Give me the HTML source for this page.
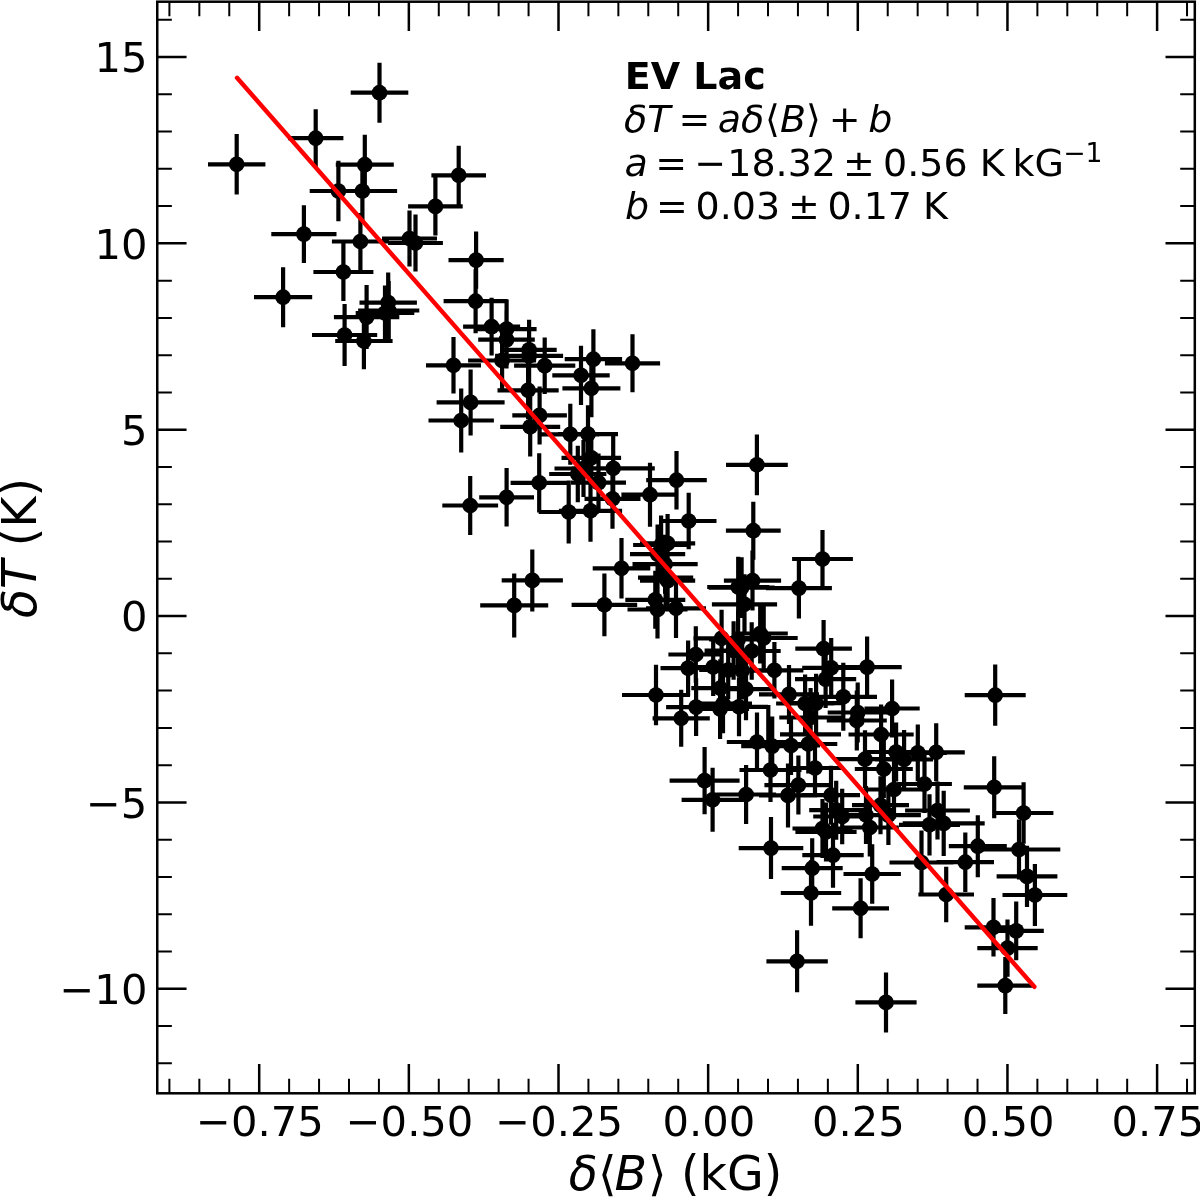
<!DOCTYPE html>
<html lang="en"><head><meta charset="utf-8"><title>EV Lac</title>
<style>html,body{margin:0;padding:0;background:#fff}svg{display:block;will-change:transform}text{font-family:"DejaVu Sans","Liberation Sans",sans-serif;fill:#000}.it{font-style:italic}.b{font-weight:bold}</style></head><body>
<svg width="1200" height="1197" viewBox="0 0 1200 1197">
<rect width="1200" height="1197" fill="#fff"/>
<path d="M259.20 1093.30v-29.3M259.20 1.70v29.3M408.85 1093.30v-29.3M408.85 1.70v29.3M558.50 1093.30v-29.3M558.50 1.70v29.3M708.15 1093.30v-29.3M708.15 1.70v29.3M857.80 1093.30v-29.3M857.80 1.70v29.3M1007.45 1093.30v-29.3M1007.45 1.70v29.3M1157.10 1093.30v-29.3M1157.10 1.70v29.3M157.25 988.80h29.3M1194.80 988.80h-29.3M157.25 802.44h29.3M1194.80 802.44h-29.3M157.25 616.08h29.3M1194.80 616.08h-29.3M157.25 429.72h29.3M1194.80 429.72h-29.3M157.25 243.36h29.3M1194.80 243.36h-29.3M157.25 57.00h29.3M1194.80 57.00h-29.3" stroke="#000" stroke-width="2.5" fill="none"/>
<path d="M169.41 1093.30v-14.6M169.41 1.70v14.6M199.34 1093.30v-14.6M199.34 1.70v14.6M229.27 1093.30v-14.6M229.27 1.70v14.6M289.13 1093.30v-14.6M289.13 1.70v14.6M319.06 1093.30v-14.6M319.06 1.70v14.6M348.99 1093.30v-14.6M348.99 1.70v14.6M378.92 1093.30v-14.6M378.92 1.70v14.6M438.78 1093.30v-14.6M438.78 1.70v14.6M468.71 1093.30v-14.6M468.71 1.70v14.6M498.64 1093.30v-14.6M498.64 1.70v14.6M528.57 1093.30v-14.6M528.57 1.70v14.6M588.43 1093.30v-14.6M588.43 1.70v14.6M618.36 1093.30v-14.6M618.36 1.70v14.6M648.29 1093.30v-14.6M648.29 1.70v14.6M678.22 1093.30v-14.6M678.22 1.70v14.6M738.08 1093.30v-14.6M738.08 1.70v14.6M768.01 1093.30v-14.6M768.01 1.70v14.6M797.94 1093.30v-14.6M797.94 1.70v14.6M827.87 1093.30v-14.6M827.87 1.70v14.6M887.73 1093.30v-14.6M887.73 1.70v14.6M917.66 1093.30v-14.6M917.66 1.70v14.6M947.59 1093.30v-14.6M947.59 1.70v14.6M977.52 1093.30v-14.6M977.52 1.70v14.6M1037.38 1093.30v-14.6M1037.38 1.70v14.6M1067.31 1093.30v-14.6M1067.31 1.70v14.6M1097.24 1093.30v-14.6M1097.24 1.70v14.6M1127.17 1093.30v-14.6M1127.17 1.70v14.6M1187.03 1093.30v-14.6M1187.03 1.70v14.6M157.25 1063.34h14.6M1194.80 1063.34h-14.6M157.25 1026.07h14.6M1194.80 1026.07h-14.6M157.25 951.53h14.6M1194.80 951.53h-14.6M157.25 914.26h14.6M1194.80 914.26h-14.6M157.25 876.98h14.6M1194.80 876.98h-14.6M157.25 839.71h14.6M1194.80 839.71h-14.6M157.25 765.17h14.6M1194.80 765.17h-14.6M157.25 727.90h14.6M1194.80 727.90h-14.6M157.25 690.62h14.6M1194.80 690.62h-14.6M157.25 653.35h14.6M1194.80 653.35h-14.6M157.25 578.81h14.6M1194.80 578.81h-14.6M157.25 541.54h14.6M1194.80 541.54h-14.6M157.25 504.26h14.6M1194.80 504.26h-14.6M157.25 466.99h14.6M1194.80 466.99h-14.6M157.25 392.45h14.6M1194.80 392.45h-14.6M157.25 355.18h14.6M1194.80 355.18h-14.6M157.25 317.90h14.6M1194.80 317.90h-14.6M157.25 280.63h14.6M1194.80 280.63h-14.6M157.25 206.09h14.6M1194.80 206.09h-14.6M157.25 168.82h14.6M1194.80 168.82h-14.6M157.25 131.54h14.6M1194.80 131.54h-14.6M157.25 94.27h14.6M1194.80 94.27h-14.6M157.25 19.73h14.6M1194.80 19.73h-14.6" stroke="#000" stroke-width="2.0" fill="none"/>
<path d="M350.7 92.7h57.6M379.5 62.7v60.0M288.0 138.2h55.4M315.7 109.2v58.0M208.0 164.3h57.4M236.7 134.0v60.6M335.8 164.7h58.0M364.8 134.7v60.0M309.7 191.0h57.4M338.4 160.7v60.6M327.7 191.0h69.4M362.4 161.0v60.0M271.3 234.1h65.2M303.9 205.2v57.8M331.9 241.5h57.0M360.4 213.0v57.0M313.4 272.0h60.0M343.4 243.0v58.0M382.0 238.5h55.0M409.5 210.5v56.0M388.1 243.0h54.8M415.5 214.5v57.0M431.4 175.3h54.6M458.7 145.7v59.2M408.1 206.4h54.6M435.4 177.4v58.0M448.5 260.1h55.2M476.1 231.4v57.4M254.0 297.2h58.2M283.1 267.2v60.0M359.5 302.6h57.4M388.2 272.6v60.0M333.9 317.1h65.4M366.6 285.1v64.0M358.1 310.5h61.2M388.7 280.9v59.2M355.7 313.0h58.6M385.0 285.4v55.2M312.0 335.0h65.2M344.6 304.0v62.0M335.2 341.0h57.4M363.9 312.7v56.6M443.6 301.2h64.0M475.6 269.2v64.0M426.0 365.3h55.0M453.5 337.0v56.6M436.6 402.4h68.0M470.6 369.4v66.0M428.5 420.5h65.4M461.2 388.5v64.0M463.1 326.6h57.0M491.6 297.8v57.6M476.6 329.1h60.0M506.6 299.5v59.2M478.2 339.6h56.6M506.5 310.6v58.0M501.5 349.8h55.2M529.1 319.8v60.0M495.1 355.9h68.0M529.1 325.9v60.0M468.1 360.5h68.0M502.1 331.0v59.0M514.1 365.7h61.2M544.7 337.4v56.6M497.5 390.3h61.2M528.1 361.3v58.0M552.3 375.3h57.4M581.0 345.7v59.2M564.7 359.2h57.4M593.4 329.2v60.0M562.4 388.3h58.0M591.4 359.3v58.0M604.9 363.3h55.2M632.5 334.3v58.0M512.3 415.4h54.6M539.6 386.4v58.0M500.2 426.8h60.0M530.2 397.1v59.4M541.3 434.3h58.0M570.3 403.8v61.0M558.0 434.2h60.0M588.0 405.2v58.0M549.2 474.0h57.2M577.8 445.8v56.4M561.5 457.8h59.6M591.3 428.8v58.0M571.0 482.6h55.0M598.5 453.6v58.0M571.6 468.3h83.2M613.2 435.3v66.0M584.5 498.8h56.0M612.5 468.8v60.0M621.4 494.7h57.2M650.0 462.7v64.0M510.6 482.8h57.2M539.2 453.2v59.2M538.7 512.0h60.0M568.7 480.5v63.0M558.9 510.8h63.2M590.5 479.8v62.0M554.5 468.5h58.0M583.5 439.9v57.2M646.2 480.2h60.6M676.5 450.9v58.6M726.0 464.8h61.8M756.9 434.4v60.8M660.9 521.0h55.6M688.7 492.8v56.4M725.9 530.7h54.8M753.3 501.7v58.0M792.1 559.0h60.8M822.5 530.0v58.0M765.9 588.1h66.0M798.9 557.8v60.6M592.7 568.3h57.6M621.5 538.1v60.4M640.0 543.4h55.2M667.6 513.9v59.0M633.1 545.0h56.0M661.1 515.5v59.0M630.0 554.1h55.2M657.6 524.6v59.0M632.5 564.2h65.2M665.1 534.7v59.0M638.0 577.7h55.2M665.6 548.2v59.0M640.0 580.7h55.2M667.6 551.2v59.0M625.3 599.8h60.0M655.3 570.8v58.0M627.5 609.5h60.0M657.5 580.5v58.0M646.0 608.3h60.0M676.0 578.5v59.6M571.6 604.8h65.6M604.4 573.4v62.8M723.9 580.6h57.2M752.5 550.6v60.0M707.2 587.0h62.0M738.2 556.7v60.6M708.6 587.6h66.0M741.6 557.3v60.6M711.9 604.3h65.2M744.5 574.3v60.0M732.6 633.5h55.2M760.2 603.5v60.0M729.7 638.0h68.0M763.7 606.5v63.0M693.4 638.3h56.4M721.6 609.8v57.0M709.1 639.5h58.0M738.1 610.5v58.0M668.4 654.5h54.8M695.8 626.3v56.4M660.5 668.1h55.2M688.1 640.5v55.2M622.0 695.0h68.0M656.0 664.7v60.6M666.1 707.1h60.0M696.1 678.1v58.0M652.6 718.3h57.2M681.2 689.8v57.0M684.2 667.0h58.0M713.2 638.0v58.0M691.3 688.2h58.0M720.3 659.2v58.0M717.0 689.2h58.0M746.0 658.2v62.0M710.0 706.8h58.0M739.0 677.3v59.0M691.1 709.0h58.0M720.1 679.0v60.0M694.0 703.7h58.0M723.0 674.2v59.0M704.6 650.5h58.0M733.6 621.2v58.6M722.7 651.0h58.0M751.7 622.2v57.6M699.2 670.0h58.0M728.2 641.0v58.0M713.2 670.6h58.0M742.2 641.6v58.0M745.4 670.3h58.0M774.4 642.1v56.4M795.3 648.6h56.6M823.6 620.0v57.2M802.2 667.8h58.0M831.2 638.0v59.6M795.0 679.1h61.2M825.6 650.1v58.0M759.0 694.4h60.0M789.0 664.9v59.0M809.6 696.8h67.4M843.3 662.8v68.0M776.1 703.5h58.0M805.1 674.5v58.0M779.3 717.5h62.6M810.6 688.0v59.0M787.1 703.2h58.0M816.1 673.7v59.0M827.7 712.5h60.0M857.7 682.5v60.0M826.8 720.5h60.0M856.8 690.5v60.0M832.5 667.1h69.2M867.1 636.6v61.0M964.7 695.2h61.0M995.2 664.6v61.2M864.5 708.5h55.2M892.1 679.5v58.0M848.5 734.5h65.2M881.1 704.5v60.0M888.8 752.8h58.0M917.8 724.4v56.8M907.6 752.3h57.2M936.2 723.3v58.0M867.1 752.0h58.0M896.1 722.5v59.0M875.1 759.5h58.0M904.1 730.0v59.0M836.0 759.2h58.0M865.0 730.2v58.0M854.8 769.0h58.0M883.8 740.0v58.0M897.1 784.0h54.8M924.5 755.0v58.0M865.0 789.5h58.0M894.0 760.5v58.0M963.8 787.3h60.8M994.2 756.3v62.0M993.8 813.0h59.6M1023.6 782.2v61.6M899.0 824.8h61.0M929.5 794.2v61.2M902.7 823.4h82.0M943.7 790.8v65.2M905.1 810.5h64.8M937.5 781.5v58.0M837.0 815.0h58.0M866.0 786.0v58.0M840.8 827.5h58.0M869.8 798.5v58.0M948.8 846.2h58.0M977.8 815.2v62.0M977.7 849.5h82.6M1019.0 819.5v60.0M936.6 862.2h57.4M965.3 832.5v59.4M996.6 876.4h60.8M1027.0 845.7v61.4M1002.5 895.0h64.8M1034.9 864.0v62.0M918.4 894.5h55.6M946.2 866.7v55.6M889.5 862.5h64.0M921.5 830.5v64.0M843.5 874.0h57.4M872.2 844.2v59.6M852.0 805.2h57.0M880.5 776.2v58.0M855.9 815.2h65.0M888.4 785.5v59.4M813.2 816.5h58.0M842.2 788.8v55.4M964.7 927.3h57.6M993.5 898.1v58.4M988.6 930.9h55.2M1016.2 901.5v58.8M977.3 948.1h60.4M1007.5 919.4v57.4M977.3 985.6h56.0M1005.3 957.1v57.0M781.7 868.2h61.0M812.2 838.2v60.0M780.8 893.0h60.4M811.0 860.3v65.4M832.2 908.3h56.8M860.6 878.3v60.0M766.4 961.3h61.4M797.1 930.3v62.0M855.4 1002.4h61.2M886.0 972.4v60.0M802.3 855.2h61.4M833.0 822.7v65.0M726.8 742.0h60.4M757.0 712.5v59.0M741.2 746.1h62.0M772.2 716.6v59.0M762.0 745.5h58.0M791.0 716.0v59.0M779.3 744.0h58.0M808.3 714.5v59.0M739.5 770.0h62.0M770.5 738.0v64.0M786.0 768.0h58.0M815.0 738.5v59.0M764.4 785.1h68.0M798.4 755.6v59.0M716.1 794.5h60.0M746.1 765.0v59.0M759.0 795.4h58.0M788.0 763.4v64.0M802.0 795.2h58.0M831.0 765.7v59.0M809.2 810.2h54.0M836.2 780.7v59.0M792.5 828.5h60.0M822.5 799.0v59.0M795.4 832.0h61.2M826.0 802.5v59.0M738.7 848.1h64.6M771.0 817.1v62.0M669.6 780.6h70.0M704.6 747.0v67.2M681.6 799.8h62.0M712.6 767.8v64.0M442.3 505.5h55.8M470.2 475.9v59.2M479.2 497.3h54.8M506.6 468.0v58.6M501.7 580.4h61.2M532.3 549.4v62.0M480.2 605.4h68.0M514.2 573.4v64.0M780.0 734.3L841.0 734.3M768.3 705.0L768.3 745.0" stroke="#000" stroke-width="4.2" fill="none"/>
<g fill="#000">
<circle cx="379.5" cy="92.7" r="7.85"/>
<circle cx="315.7" cy="138.2" r="7.85"/>
<circle cx="236.7" cy="164.3" r="7.85"/>
<circle cx="364.8" cy="164.7" r="7.85"/>
<circle cx="338.4" cy="191.0" r="7.85"/>
<circle cx="362.4" cy="191.0" r="7.85"/>
<circle cx="303.9" cy="234.1" r="7.85"/>
<circle cx="360.4" cy="241.5" r="7.85"/>
<circle cx="343.4" cy="272.0" r="7.85"/>
<circle cx="409.5" cy="238.5" r="7.85"/>
<circle cx="415.5" cy="243.0" r="7.85"/>
<circle cx="458.7" cy="175.3" r="7.85"/>
<circle cx="435.4" cy="206.4" r="7.85"/>
<circle cx="476.1" cy="260.1" r="7.85"/>
<circle cx="283.1" cy="297.2" r="7.85"/>
<circle cx="388.2" cy="302.6" r="7.85"/>
<circle cx="366.6" cy="317.1" r="7.85"/>
<circle cx="388.7" cy="310.5" r="7.85"/>
<circle cx="385.0" cy="313.0" r="7.85"/>
<circle cx="344.6" cy="335.0" r="7.85"/>
<circle cx="363.9" cy="341.0" r="7.85"/>
<circle cx="475.6" cy="301.2" r="7.85"/>
<circle cx="453.5" cy="365.3" r="7.85"/>
<circle cx="470.6" cy="402.4" r="7.85"/>
<circle cx="461.2" cy="420.5" r="7.85"/>
<circle cx="491.6" cy="326.6" r="7.85"/>
<circle cx="506.6" cy="329.1" r="7.85"/>
<circle cx="506.5" cy="339.6" r="7.85"/>
<circle cx="529.1" cy="349.8" r="7.85"/>
<circle cx="529.1" cy="355.9" r="7.85"/>
<circle cx="502.1" cy="360.5" r="7.85"/>
<circle cx="544.7" cy="365.7" r="7.85"/>
<circle cx="528.1" cy="390.3" r="7.85"/>
<circle cx="581.0" cy="375.3" r="7.85"/>
<circle cx="593.4" cy="359.2" r="7.85"/>
<circle cx="591.4" cy="388.3" r="7.85"/>
<circle cx="632.5" cy="363.3" r="7.85"/>
<circle cx="539.6" cy="415.4" r="7.85"/>
<circle cx="530.2" cy="426.8" r="7.85"/>
<circle cx="570.3" cy="434.3" r="7.85"/>
<circle cx="588.0" cy="434.2" r="7.85"/>
<circle cx="577.8" cy="474.0" r="7.85"/>
<circle cx="591.3" cy="457.8" r="7.85"/>
<circle cx="598.5" cy="482.6" r="7.85"/>
<circle cx="613.2" cy="468.3" r="7.85"/>
<circle cx="612.5" cy="498.8" r="7.85"/>
<circle cx="650.0" cy="494.7" r="7.85"/>
<circle cx="539.2" cy="482.8" r="7.85"/>
<circle cx="568.7" cy="512.0" r="7.85"/>
<circle cx="590.5" cy="510.8" r="7.85"/>
<circle cx="583.5" cy="468.5" r="7.85"/>
<circle cx="676.5" cy="480.2" r="7.85"/>
<circle cx="756.9" cy="464.8" r="7.85"/>
<circle cx="688.7" cy="521.0" r="7.85"/>
<circle cx="753.3" cy="530.7" r="7.85"/>
<circle cx="822.5" cy="559.0" r="7.85"/>
<circle cx="798.9" cy="588.1" r="7.85"/>
<circle cx="621.5" cy="568.3" r="7.85"/>
<circle cx="667.6" cy="543.4" r="7.85"/>
<circle cx="661.1" cy="545.0" r="7.85"/>
<circle cx="657.6" cy="554.1" r="7.85"/>
<circle cx="665.1" cy="564.2" r="7.85"/>
<circle cx="665.6" cy="577.7" r="7.85"/>
<circle cx="667.6" cy="580.7" r="7.85"/>
<circle cx="655.3" cy="599.8" r="7.85"/>
<circle cx="657.5" cy="609.5" r="7.85"/>
<circle cx="676.0" cy="608.3" r="7.85"/>
<circle cx="604.4" cy="604.8" r="7.85"/>
<circle cx="752.5" cy="580.6" r="7.85"/>
<circle cx="738.2" cy="587.0" r="7.85"/>
<circle cx="741.6" cy="587.6" r="7.85"/>
<circle cx="744.5" cy="604.3" r="7.85"/>
<circle cx="760.2" cy="633.5" r="7.85"/>
<circle cx="763.7" cy="638.0" r="7.85"/>
<circle cx="721.6" cy="638.3" r="7.85"/>
<circle cx="738.1" cy="639.5" r="7.85"/>
<circle cx="695.8" cy="654.5" r="7.85"/>
<circle cx="688.1" cy="668.1" r="7.85"/>
<circle cx="656.0" cy="695.0" r="7.85"/>
<circle cx="696.1" cy="707.1" r="7.85"/>
<circle cx="681.2" cy="718.3" r="7.85"/>
<circle cx="713.2" cy="667.0" r="7.85"/>
<circle cx="720.3" cy="688.2" r="7.85"/>
<circle cx="746.0" cy="689.2" r="7.85"/>
<circle cx="739.0" cy="706.8" r="7.85"/>
<circle cx="720.1" cy="709.0" r="7.85"/>
<circle cx="723.0" cy="703.7" r="7.85"/>
<circle cx="733.6" cy="650.5" r="7.85"/>
<circle cx="751.7" cy="651.0" r="7.85"/>
<circle cx="728.2" cy="670.0" r="7.85"/>
<circle cx="742.2" cy="670.6" r="7.85"/>
<circle cx="774.4" cy="670.3" r="7.85"/>
<circle cx="823.6" cy="648.6" r="7.85"/>
<circle cx="831.2" cy="667.8" r="7.85"/>
<circle cx="825.6" cy="679.1" r="7.85"/>
<circle cx="789.0" cy="694.4" r="7.85"/>
<circle cx="843.3" cy="696.8" r="7.85"/>
<circle cx="805.1" cy="703.5" r="7.85"/>
<circle cx="810.6" cy="717.5" r="7.85"/>
<circle cx="816.1" cy="703.2" r="7.85"/>
<circle cx="857.7" cy="712.5" r="7.85"/>
<circle cx="856.8" cy="720.5" r="7.85"/>
<circle cx="867.1" cy="667.1" r="7.85"/>
<circle cx="995.2" cy="695.2" r="7.85"/>
<circle cx="892.1" cy="708.5" r="7.85"/>
<circle cx="881.1" cy="734.5" r="7.85"/>
<circle cx="917.8" cy="752.8" r="7.85"/>
<circle cx="936.2" cy="752.3" r="7.85"/>
<circle cx="896.1" cy="752.0" r="7.85"/>
<circle cx="904.1" cy="759.5" r="7.85"/>
<circle cx="865.0" cy="759.2" r="7.85"/>
<circle cx="883.8" cy="769.0" r="7.85"/>
<circle cx="924.5" cy="784.0" r="7.85"/>
<circle cx="894.0" cy="789.5" r="7.85"/>
<circle cx="994.2" cy="787.3" r="7.85"/>
<circle cx="1023.6" cy="813.0" r="7.85"/>
<circle cx="929.5" cy="824.8" r="7.85"/>
<circle cx="943.7" cy="823.4" r="7.85"/>
<circle cx="937.5" cy="810.5" r="7.85"/>
<circle cx="866.0" cy="815.0" r="7.85"/>
<circle cx="869.8" cy="827.5" r="7.85"/>
<circle cx="977.8" cy="846.2" r="7.85"/>
<circle cx="1019.0" cy="849.5" r="7.85"/>
<circle cx="965.3" cy="862.2" r="7.85"/>
<circle cx="1027.0" cy="876.4" r="7.85"/>
<circle cx="1034.9" cy="895.0" r="7.85"/>
<circle cx="946.2" cy="894.5" r="7.85"/>
<circle cx="921.5" cy="862.5" r="7.85"/>
<circle cx="872.2" cy="874.0" r="7.85"/>
<circle cx="880.5" cy="805.2" r="7.85"/>
<circle cx="888.4" cy="815.2" r="7.85"/>
<circle cx="842.2" cy="816.5" r="7.85"/>
<circle cx="993.5" cy="927.3" r="7.85"/>
<circle cx="1016.2" cy="930.9" r="7.85"/>
<circle cx="1007.5" cy="948.1" r="7.85"/>
<circle cx="1005.3" cy="985.6" r="7.85"/>
<circle cx="812.2" cy="868.2" r="7.85"/>
<circle cx="811.0" cy="893.0" r="7.85"/>
<circle cx="860.6" cy="908.3" r="7.85"/>
<circle cx="797.1" cy="961.3" r="7.85"/>
<circle cx="886.0" cy="1002.4" r="7.85"/>
<circle cx="833.0" cy="855.2" r="7.85"/>
<circle cx="757.0" cy="742.0" r="7.85"/>
<circle cx="772.2" cy="746.1" r="7.85"/>
<circle cx="791.0" cy="745.5" r="7.85"/>
<circle cx="808.3" cy="744.0" r="7.85"/>
<circle cx="770.5" cy="770.0" r="7.85"/>
<circle cx="815.0" cy="768.0" r="7.85"/>
<circle cx="798.4" cy="785.1" r="7.85"/>
<circle cx="746.1" cy="794.5" r="7.85"/>
<circle cx="788.0" cy="795.4" r="7.85"/>
<circle cx="831.0" cy="795.2" r="7.85"/>
<circle cx="836.2" cy="810.2" r="7.85"/>
<circle cx="822.5" cy="828.5" r="7.85"/>
<circle cx="826.0" cy="832.0" r="7.85"/>
<circle cx="771.0" cy="848.1" r="7.85"/>
<circle cx="704.6" cy="780.6" r="7.85"/>
<circle cx="712.6" cy="799.8" r="7.85"/>
<circle cx="470.2" cy="505.5" r="7.85"/>
<circle cx="506.6" cy="497.3" r="7.85"/>
<circle cx="532.3" cy="580.4" r="7.85"/>
<circle cx="514.2" cy="605.4" r="7.85"/>
</g>
<path d="M237.0 77.8L1034.4 986.8" stroke="#f00" stroke-width="4.4" stroke-linecap="round" fill="none"/>
<rect x="157.25" y="1.7" width="1037.55" height="1091.60" fill="none" stroke="#000" stroke-width="2.5"/>
<text x="259.90" y="1135.6" font-size="41.67" text-anchor="middle">−0.75</text>
<text x="409.55" y="1135.6" font-size="41.67" text-anchor="middle">−0.50</text>
<text x="559.20" y="1135.6" font-size="41.67" text-anchor="middle">−0.25</text>
<text x="708.85" y="1135.6" font-size="41.67" text-anchor="middle">0.00</text>
<text x="858.50" y="1135.6" font-size="41.67" text-anchor="middle">0.25</text>
<text x="1008.15" y="1135.6" font-size="41.67" text-anchor="middle">0.50</text>
<text x="1157.80" y="1135.6" font-size="41.67" text-anchor="middle">0.75</text>
<text x="147.4" y="72.20" font-size="41.67" text-anchor="end">15</text>
<text x="147.4" y="258.56" font-size="41.67" text-anchor="end">10</text>
<text x="147.4" y="444.92" font-size="41.67" text-anchor="end">5</text>
<text x="147.4" y="631.28" font-size="41.67" text-anchor="end">0</text>
<text x="147.4" y="817.64" font-size="41.67" text-anchor="end">−5</text>
<text x="147.4" y="1004.00" font-size="41.67" text-anchor="end">−10</text>
<text x="568.8" y="1190" font-size="47.5" class="it">δ</text>
<text x="598" y="1190" font-size="47.5">⟨</text>
<text x="614.6" y="1190" font-size="47.5" class="it">B</text>
<text x="648" y="1190" font-size="47.5">⟩</text>
<text x="681" y="1190" font-size="47.5">(kG)</text>
<text transform="translate(36.3 618) rotate(-90)" font-size="47.5" class="it">δT</text>
<text transform="translate(36.3 546.2) rotate(-90)" font-size="47.5">(K)</text>
<text x="624.7" y="88.5" font-size="38.0" class="b">EV Lac</text>
<text x="624" y="132.0" font-size="38.0" class="it">δT</text>
<text x="678.5" y="132.0" font-size="38.0">=</text>
<text x="717.75" y="132.0" font-size="38.0" class="it">aδ</text>
<text x="765" y="132.0" font-size="38.0">⟨</text>
<text x="780" y="132.0" font-size="38.0" class="it">B</text>
<text x="806" y="132.0" font-size="38.0">⟩</text>
<text x="828.75" y="132.0" font-size="38.0">+</text>
<text x="868.2" y="132.0" font-size="38.0" class="it">b</text>
<text x="624.5" y="175.7" font-size="38.0" class="it">a</text>
<text x="655.3" y="175.7" font-size="38.0">=</text>
<text x="694.3" y="175.7" font-size="38.0">−</text>
<text x="727.25" y="175.7" font-size="38.0">18.32</text>
<text x="843" y="175.7" font-size="38.0">±</text>
<text x="883" y="175.7" font-size="38.0">0.56</text>
<text x="979.75" y="175.7" font-size="38.0">K</text>
<text x="1012.5" y="175.7" font-size="38.0">kG</text>
<text x="1063.25" y="162.0" font-size="26.6">−1</text>
<text x="625" y="219.0" font-size="38.0" class="it">b</text>
<text x="656" y="219.0" font-size="38.0">=</text>
<text x="695.5" y="219.0" font-size="38.0">0.03</text>
<text x="788" y="219.0" font-size="38.0">±</text>
<text x="827.4" y="219.0" font-size="38.0">0.17</text>
<text x="923.1" y="219.0" font-size="38.0">K</text>
</svg></body></html>
